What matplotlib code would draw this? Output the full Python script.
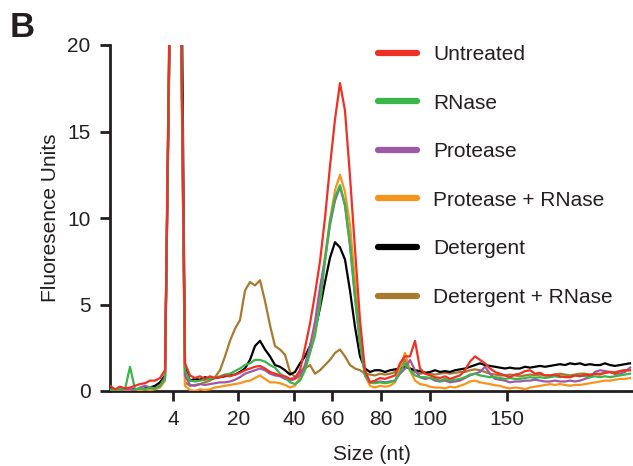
import numpy as np
import matplotlib
matplotlib.use("Agg")
import matplotlib.pyplot as plt

plt.rcParams['font.family'] = ['Liberation Sans', 'DejaVu Sans']

# migration time grid (arbitrary units) on which traces are sampled
migration_time = np.linspace(20.0, 72.0, 105)

# size ladder: tick positions (migration time) and labels (nt)
size_tick_pos = [26.33, 32.83, 38.43, 42.23, 47.1, 52.0, 59.73]
size_tick_labels = ["4", "20", "40", "60", "80", "100", "150"]

untreated = [
    0.3, 0.1, 0.25, 0.15, 0.2, 0.3, 0.4, 0.45, 0.6, 0.6,
    0.75, 1.2, 24, 40, 28, 1.6, 0.9, 0.75, 0.85, 0.7,
    0.85, 0.75, 0.8, 0.9, 0.85, 0.95, 1.05, 1.2, 1.3, 1.4,
    1.45, 1.3, 1.1, 1.0, 0.9, 0.85, 0.7, 0.75, 1.2, 2.5,
    3.9, 5.6, 7.5, 10.0, 13.0, 15.7, 17.8, 16.2, 12.4, 8.2,
    4.1, 1.2, 0.5, 0.6, 0.75, 0.7, 0.8, 0.9, 1.6, 2.0,
    2.0, 2.9, 1.3, 1.0, 0.9, 0.8, 0.75, 0.85, 0.7, 0.8,
    0.9, 1.2, 1.7, 2.0, 1.8, 1.6, 1.3, 1.1, 1.0, 0.9,
    0.8, 0.95, 1.0, 1.15, 1.2, 1.0, 1.05, 0.9, 0.9, 0.95,
    0.85, 0.8, 0.8, 0.9, 0.85, 0.95, 0.9, 1.0, 0.95, 1.05,
    1.1, 1.0, 1.15, 1.2, 1.2]

rnase = [
    0.1, 0.05, 0.1, 0.1, 1.4, 0.1, 0.15, 0.1, 0.2, 0.15,
    0.3, 0.8, 24, 40, 27, 1.2, 0.6, 0.55, 0.6, 0.65,
    0.7, 0.75, 0.85, 0.95, 1.0, 1.15, 1.3, 1.5, 1.6, 1.8,
    1.8, 1.7, 1.5, 1.35, 1.0, 0.8, 0.5, 0.4, 0.6, 1.2,
    2.2, 3.2, 5.0, 7.5, 9.8, 11.2, 11.9, 10.8, 8.5, 5.5,
    2.8, 0.9, 0.5, 0.45, 0.5, 0.45, 0.5, 0.6, 1.1, 1.6,
    1.2, 0.9, 0.8, 0.8, 0.75, 0.7, 0.6, 0.7, 0.6, 0.65,
    0.7, 0.8, 0.95, 1.0, 0.9, 0.85, 0.8, 0.8, 0.75, 0.7,
    0.75, 0.7, 0.7, 0.75, 0.8, 0.75, 0.8, 0.75, 0.8, 0.85,
    0.8, 0.85, 0.8, 0.9, 0.9, 0.85, 0.8, 0.85, 0.8, 0.85,
    0.8, 0.85, 0.9, 0.95, 1.0]

protease = [
    0.05, 0.1, 0.05, 0.1, 0.1, 0.05, 0.2, 0.3, 0.2, 0.15,
    0.3, 0.7, 23, 40, 27, 0.9, 0.35, 0.3, 0.4, 0.35,
    0.4, 0.45, 0.5, 0.5, 0.55, 0.65, 0.8, 1.0, 1.1, 1.2,
    1.3, 1.2, 1.0, 0.9, 0.85, 0.7, 0.6, 0.7, 0.9, 1.5,
    2.6, 4.0, 6.0, 7.6, 9.6, 11.0, 11.8, 10.7, 8.4, 5.4,
    2.7, 0.9, 0.5, 0.5, 0.55, 0.5, 0.55, 0.6, 1.0, 1.3,
    1.8, 1.2, 0.8, 0.7, 0.75, 0.6, 0.55, 0.6, 0.5, 0.55,
    0.6, 0.75, 0.9, 1.0, 1.1, 1.4, 1.0, 0.7, 0.65, 0.6,
    0.5, 0.55, 0.55, 0.6, 0.6, 0.65, 0.6, 0.55, 0.55, 0.6,
    0.55, 0.55, 0.6, 0.55, 0.6, 0.7, 0.8, 1.1, 1.2, 1.15,
    1.1, 1.0, 1.0, 1.1, 1.35]

protease_rnase = [
    0.0, 0.0, 0.05, 0.0, 0.05, 0.0, 0.05, 0.1, 0.05, 0.1,
    0.2, 0.6, 23, 40, 27, 0.3, 0.05, 0.0, 0.1, 0.05,
    0.1, 0.2, 0.25, 0.3, 0.35, 0.4, 0.45, 0.55, 0.6, 0.75,
    0.9, 0.7, 0.5, 0.5, 0.45, 0.35, 0.2, 0.3, 0.8, 1.3,
    2.3, 3.6, 5.6, 7.8, 9.9, 11.6, 12.5, 11.5, 9.6, 6.4,
    3.2, 0.9, 0.3, 0.2, 0.3, 0.25, 0.3, 0.5, 1.4, 2.2,
    1.2, 0.6, 0.4, 0.35, 0.25, 0.2, 0.2, 0.15, 0.25, 0.2,
    0.3, 0.4, 0.55, 0.6, 0.5, 0.45, 0.4, 0.33, 0.3, 0.2,
    0.15, 0.2, 0.17, 0.1, 0.2, 0.25, 0.3, 0.35, 0.4, 0.35,
    0.4, 0.35, 0.3, 0.35, 0.35, 0.4, 0.45, 0.5, 0.55, 0.6,
    0.6, 0.65, 0.7, 0.7, 0.75]

detergent = [
    0.2, 0.05, 0.05, 0.1, 0.05, 0.1, 0.05, 0.15, 0.2, 0.3,
    0.5, 0.9, 22, 40, 35, 1.4, 0.6, 0.7, 0.65, 0.8,
    0.7, 0.75, 0.8, 0.85, 0.9, 0.95, 1.1, 1.3, 1.8, 2.6,
    2.9, 2.4, 2.0, 1.5, 1.4, 1.2, 0.95, 1.1, 1.6, 2.0,
    2.6, 3.5, 4.8, 6.3, 7.7, 8.6, 8.3, 7.6, 5.8, 3.7,
    2.0, 1.3, 1.1, 1.2, 1.2, 1.1, 1.2, 1.25, 1.3, 1.4,
    1.3, 1.2, 1.15, 1.05, 1.1, 1.2, 1.1, 1.15, 1.1, 1.2,
    1.25, 1.3, 1.4, 1.5, 1.6, 1.5, 1.45, 1.4, 1.35, 1.3,
    1.35, 1.3, 1.3, 1.4, 1.35, 1.4, 1.45, 1.4, 1.45, 1.5,
    1.55, 1.5, 1.6, 1.55, 1.6, 1.5, 1.55, 1.5, 1.5, 1.6,
    1.5, 1.45, 1.5, 1.55, 1.6]

detergent_rnase = [
    0.05, 0.1, 0.05, 0.1, 0.05, 0.1, 0.05, 0.1, 0.15, 0.2,
    0.3, 0.8, 23, 40, 26, 0.5, 0.3, 0.35, 0.4, 0.5,
    0.6, 0.8, 1.2, 2.0, 2.9, 3.6, 4.1, 5.8, 6.3, 6.1,
    6.4, 5.2, 3.8, 2.6, 2.4, 2.1, 1.1, 0.8, 1.1, 1.3,
    1.5, 1.0, 1.2, 1.5, 1.8, 2.2, 2.4, 2.0, 1.5, 1.3,
    1.2, 1.0, 0.95, 0.9, 1.0, 0.95, 1.0, 1.1, 1.4, 1.8,
    1.3, 1.1, 1.0, 1.05, 1.0, 0.95, 1.0, 1.05, 1.0, 1.05,
    1.1, 1.1, 1.2, 1.25, 1.2, 1.1, 1.0, 0.95, 0.9, 0.9,
    0.95, 0.9, 0.85, 0.9, 0.95, 0.9, 0.95, 0.9, 0.9, 0.95,
    1.0, 0.95, 0.9, 0.95, 1.0, 1.0, 0.95, 1.0, 1.0, 1.05,
    1.1, 1.1, 1.15, 1.2, 1.2]

series_names = ["Untreated", "RNase", "Protease", "Protease + RNase",
                "Detergent", "Detergent + RNase"]
series_values = [untreated, rnase, protease, protease_rnase,
                 detergent, detergent_rnase]
series_colors = ["#ee3124", "#39b54a", "#9b59a6", "#f7941d",
                 "#000000", "#a87a2f"]

text_color = "#231f20"
fs = 15

fig = plt.figure(figsize=(6.33, 4.66), dpi=100)
ax = fig.add_axes([110/633, 75/466, 523/633, 346/466])

handles = []
n = len(series_names)
for i in reversed(range(n)):
    ln, = ax.plot(migration_time, series_values[i], color=series_colors[i],
                  lw=1.6, zorder=2 + (n - i), solid_joinstyle='round')
    handles.append(ln)
handles = handles[::-1]

ax.set_xlim(20, 72.3)
ax.set_ylim(0, 20)
ax.set_yticks([0, 5, 10, 15, 20])
ax.set_xticks(size_tick_pos)
ax.set_xticklabels(size_tick_labels)

for s in ["top", "right"]:
    ax.spines[s].set_visible(False)
for s in ["left", "bottom"]:
    ax.spines[s].set_linewidth(2.0)
    ax.spines[s].set_color(text_color)

ax.tick_params(axis='both', direction='out', length=7, width=2.0,
               colors=text_color, labelsize=fs)
ax.tick_params(axis='y', pad=7)
ax.tick_params(axis='x', pad=7)

ax.set_ylabel("Fluoresence Units", fontsize=fs, color=text_color, labelpad=5)
ax.set_xlabel("Size (nt)", fontsize=fs, color=text_color, labelpad=11)

leg = ax.legend(handles, series_names, loc='upper left',
                bbox_to_anchor=(378/633, 1 - 45/466),
                bbox_transform=fig.transFigure,
                frameon=False, fontsize=fs, handlelength=1.85,
                handletextpad=0.8, labelspacing=1.42, borderpad=0,
                borderaxespad=0)
for line in leg.get_lines():
    line.set_linewidth(4.5)
    line.set_solid_capstyle('round')
for t in leg.get_texts():
    t.set_color(text_color)

fig.text(10/633, 1 - 11/466, "B", fontsize=25, fontweight='bold',
         color=text_color, ha='left', va='top')

fig.savefig("out.png", dpi=100)
